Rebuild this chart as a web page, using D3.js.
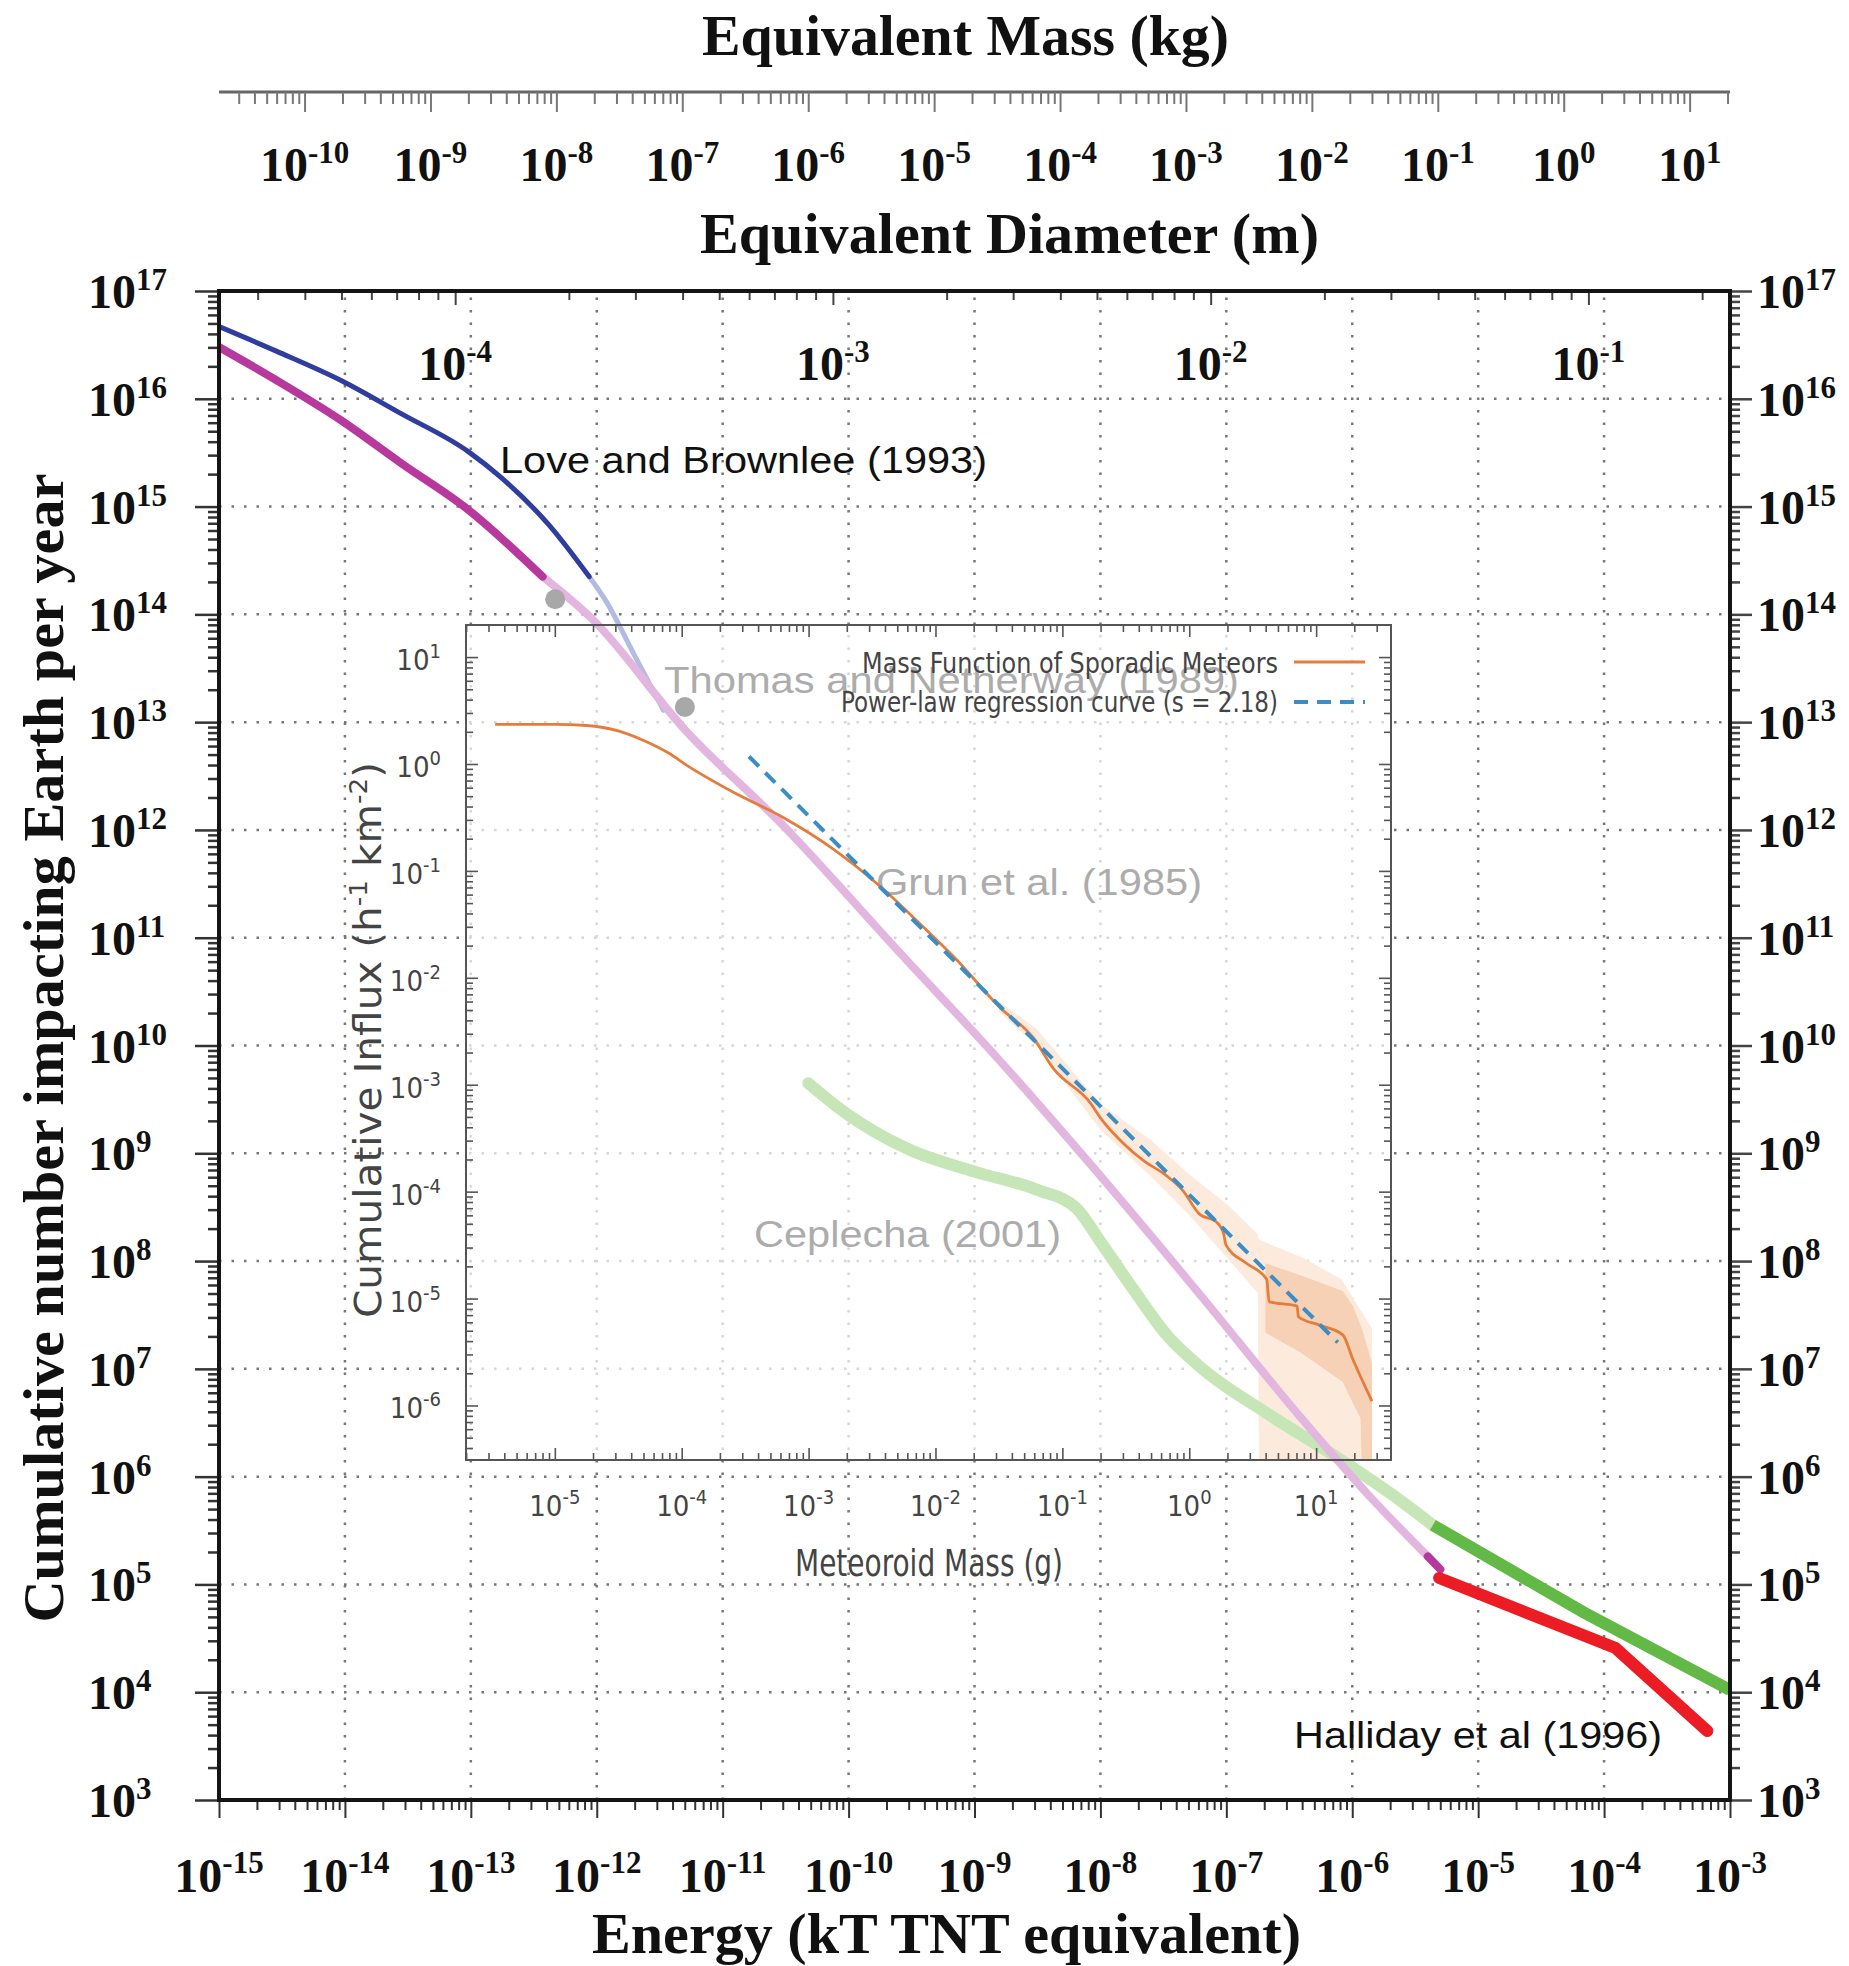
<!doctype html>
<html>
  <head>
    <meta charset="utf-8">
    <title>Cumulative impact flux</title>
    <script src="https://cdnjs.cloudflare.com/ajax/libs/d3/7.8.5/d3.min.js"></script>
    <style>
      body { margin: 0; background: #fff; }
      svg { display: block; }
      .serif { font-family: "Liberation Serif", "Times New Roman", serif; font-weight: bold; fill: #111; }
      .sans { font-family: "Liberation Sans", Arial, sans-serif; }
      .narrow { font-family: "Liberation Sans Narrow", "DejaVu Sans Condensed", "DejaVu Sans", sans-serif; font-stretch: condensed; fill: #444; }
    </style>
  </head>
  <body>
    <svg id="chart" width="1849" height="1966"></svg>
    <script>

    // ---- tick exponents ----
    var energyExps = [-15,-14,-13,-12,-11,-10,-9,-8,-7,-6,-5,-4,-3];
    var countExps = [3,4,5,6,7,8,9,10,11,12,13,14,15,16,17];
    var massExps = [-10,-9,-8,-7,-6,-5,-4,-3,-2,-1,0,1];
    var diamExps = [-4,-3,-2,-1];
    var insetMassExps = [-5,-4,-3,-2,-1,0,1];
    var insetFluxExps = [-6,-5,-4,-3,-2,-1,0,1];

    // ---- main chart series (log10 energy kT, log10 cumulative number / yr) ----
    var loveLogE = [-15, -14.54, -14.03, -13.55, -13.02, -12.77, -12.38, -12.06];
    var loveLogN = [16.67, 16.44, 16.17, 15.86, 15.51, 15.28, 14.83, 14.35];
    var loveFadeLogE = [-12.06, -11.93, -11.70, -11.47];
    var loveFadeLogN = [14.35, 14.13, 13.62, 13.11];

    var grunLogE = [-15, -14.54, -14.03, -13.55, -13.02, -12.43];
    var grunLogN = [16.48, 16.17, 15.80, 15.40, 14.97, 14.35];
    var grunFadeLogE = [-12.43, -12.03, -11.30, -10.51, -9.64, -8.80, -8.00, -7.21, -6.41, -5.88, -5.40];
    var grunFadeLogN = [14.35, 13.95, 12.93, 12.03, 10.92, 9.86, 8.79, 7.69, 6.55, 5.84, 5.26];
    var grunEndLogE = [-5.40, -5.30];
    var grunEndLogN = [5.26, 5.14];

    var cepLogE = [-10.32, -10.02, -9.51, -9.00, -8.50, -8.19, -8.00, -7.74, -7.47, -7.21, -6.68, -6.15, -5.62, -5.36];
    var cepLogN = [9.65, 9.37, 9.03, 8.83, 8.66, 8.49, 8.18, 7.74, 7.31, 7.02, 6.59, 6.20, 5.78, 5.55];
    var cepSolidLogE = [-5.36, -4.16, -3.0];
    var cepSolidLogN = [5.55, 4.74, 4.02];

    var hallLogE = [-5.31, -3.91, -3.18];
    var hallLogN = [5.06, 4.41, 3.64];

    var dotLogE = [-12.33, -11.30];
    var dotLogN = [14.14, 13.14];

    // ---- inset series (log10 mass g, log10 influx h^-1 km^-2) ----
    var mfLogM = [-5.47, -5.0, -4.75, -4.5, -4.3, -4.1, -3.95, -3.6, -3.2, -2.8, -2.43, -2.1, -1.85, -1.49, -1.23, -1.07, -0.78, -0.70, -0.50, -0.36, -0.18, -0.05, 0.08, 0.21, 0.27, 0.29, 0.45, 0.61, 0.63, 0.85, 0.86, 1.03, 1.21, 1.29, 1.44];
    var mfLogI = [0.37, 0.37, 0.36, 0.31, 0.22, 0.10, -0.02, -0.26, -0.50, -0.80, -1.15, -1.52, -1.81, -2.28, -2.56, -2.85, -3.17, -3.31, -3.57, -3.71, -3.85, -3.99, -4.21, -4.28, -4.39, -4.50, -4.67, -4.82, -5.03, -5.07, -5.17, -5.25, -5.34, -5.57, -5.96];

    var outerLogM = [-1.5, -1.2, -0.7, -0.3, 0.0, 0.3, 0.54, 0.55, 0.9, 1.2, 1.44];
    var outerHi = [-2.22, -2.48, -3.18, -3.52, -3.84, -4.12, -4.40, -4.45, -4.62, -4.82, -5.28];
    var outerLo = [-2.32, -2.64, -3.42, -3.86, -4.22, -4.62, -4.95, -6.6, -6.6, -6.6, -6.6];
    var innerLogM = [0.60, 0.87, 1.21, 1.29, 1.35, 1.36, 1.44];
    var innerHi = [-4.67, -4.78, -4.93, -5.07, -5.25, -5.28, -5.60];
    var innerLo = [-5.32, -5.50, -5.78, -5.98, -6.12, -6.6, -6.6];

    var fitLogM = [-3.47, 1.17];
    var fitLogI = [0.07, -5.41];

    // ---- scales ----
    var svg = d3.select("#chart");
    var x = d3.scaleLog().domain([1e-15, 1e-3]).range([219, 1730]);
    var y = d3.scaleLog().domain([1e3, 1e17]).range([1800, 291]);

    var KT_PER_KG = 0.5 * 20000 * 20000 / 4.184e12;   // at 20 km/s
    var RHO = 3000;
    var diam = function(m) { return Math.cbrt(6 * m / (Math.PI * RHO)); };
    var xMass = d3.scaleLog().domain(x.domain().map(function(e){ return e / KT_PER_KG; })).range(x.range());
    var xDiam = d3.scaleLog().domain(xMass.domain().map(diam)).range(x.range());

    var ix = d3.scaleLog().domain([Math.pow(10,-5.70), Math.pow(10,1.59)]).range([466, 1391]);
    var iy = d3.scaleLog().domain([Math.pow(10,-6.51), Math.pow(10,1.30)]).range([1460, 625]);

    var p10 = function(v) { return Math.pow(10, v); };

    function logTicks(dom, major) {
      var lo = Math.min(dom[0], dom[1]), hi = Math.max(dom[0], dom[1]), out = [];
      for (var e = Math.floor(Math.log10(lo)); e <= Math.ceil(Math.log10(hi)); e++) {
        for (var k = 1; k < 10; k++) {
          var v = k * Math.pow(10, e);
          if (v >= lo * 0.9999 && v <= hi * 1.0001 && (k === 1) === major) out.push(v);
        }
      }
      return out;
    }

    function ticks(axisFn, scale, tx, ty, majorLen, minorLen, color, width) {
      [[true, majorLen], [false, minorLen]].forEach(function(p) {
        svg.append("g")
          .attr("transform", "translate(" + tx + "," + ty + ")")
          .attr("color", color)
          .call(axisFn(scale).tickValues(logTicks(scale.domain(), p[0])).tickSize(p[1]).tickFormat(""))
          .call(function(g){ g.select(".domain").remove(); g.selectAll("text").remove(); })
          .selectAll("line").attr("stroke-width", width);
      });
    }

    function expLabel(cls, xx, yy, exp, anchor, size, sup, rise) {
      var t = svg.append("text").attr("class", cls)
        .attr("x", xx).attr("y", yy).attr("text-anchor", anchor).attr("font-size", size);
      t.append("tspan").text("10");
      t.append("tspan").attr("dy", -rise).attr("font-size", sup).text(exp);
      return t;
    }

    var pts = function(xs, ys, sx, sy) {
      return d3.zip(xs, ys).map(function(d){ return [sx(p10(d[0])), sy(p10(d[1]))]; });
    };

    // ---- clip paths ----
    var defs = svg.append("defs");
    defs.append("clipPath").attr("id", "plotclip").append("rect")
      .attr("x", 219).attr("y", 291).attr("width", 1511).attr("height", 1509);
    defs.append("clipPath").attr("id", "insetclip").append("rect")
      .attr("x", 466).attr("y", 625).attr("width", 925).attr("height", 835);

    // ---- main grid ----
    var grid = svg.append("g").attr("stroke", "#777").attr("stroke-width", 2.5).attr("stroke-dasharray", "2.5,10");
    countExps.slice(1, -1).forEach(function(e) {
      grid.append("line").attr("x1", x.range()[0]).attr("x2", x.range()[1]).attr("y1", y(p10(e))).attr("y2", y(p10(e)));
    });
    energyExps.slice(1, -1).forEach(function(e) {
      grid.append("line").attr("y1", y.range()[0]).attr("y2", y.range()[1]).attr("x1", x(p10(e))).attr("x2", x(p10(e)));
    });

    // ---- inset background (semi transparent) ----
    svg.append("rect").attr("x", 466).attr("y", 625).attr("width", 925).attr("height", 835)
      .attr("fill", "#fff").attr("opacity", 0.7);

    // inset confidence bands
    var band = d3.area()
      .x(function(d){ return ix(p10(d[0])); })
      .y0(function(d){ return iy(p10(d[2])); })
      .y1(function(d){ return iy(p10(d[1])); });
    var ib = svg.append("g").attr("clip-path", "url(#insetclip)");
    ib.append("path").attr("d", band(d3.zip(outerLogM, outerHi, outerLo))).attr("fill", "#fcebdd");
    ib.append("path").attr("d", band(d3.zip(innerLogM, innerHi, innerLo))).attr("fill", "#f6d1b5");

    // ---- faded main curves ----
    var smooth = d3.line().curve(d3.curveMonotoneX);
    var straight = d3.line();
    var mc = svg.append("g").attr("clip-path", "url(#plotclip)").attr("fill", "none").attr("stroke-linecap", "round");
    mc.append("path").attr("d", smooth(pts(cepLogE, cepLogN, x, y))).attr("stroke", "#c6e6b8").attr("stroke-width", 12);
    mc.append("path").attr("d", smooth(pts(loveFadeLogE, loveFadeLogN, x, y))).attr("stroke", "#b2bbe2").attr("stroke-width", 5);
    mc.append("path").attr("d", smooth(pts(grunFadeLogE, grunFadeLogN, x, y))).attr("stroke", "#e2b6de").attr("stroke-width", 8);

    svg.append("g").attr("fill", "#a8a8a8").selectAll("circle")
      .data(d3.zip(dotLogE, dotLogN)).enter().append("circle")
      .attr("cx", function(d){ return x(p10(d[0])); })
      .attr("cy", function(d){ return y(p10(d[1])); })
      .attr("r", 10);

    // gray source labels
    var lab = function(txt, xx, yy, len, col) {
      svg.append("text").attr("class", "sans").attr("x", xx).attr("y", yy)
        .attr("font-size", 37).attr("fill", col).attr("textLength", len)
        .attr("lengthAdjust", "spacingAndGlyphs").text(txt);
    };
    lab("Thomas and Netherway (1989)", 664, 693, 575, "#acacac");
    lab("Grun et al. (1985)", 876, 895, 326, "#acacac");
    lab("Ceplecha (2001)", 754, 1247, 307, "#acacac");

    // ---- inset content ----
    var ic = svg.append("g").attr("clip-path", "url(#insetclip)").attr("fill", "none");
    ic.append("path").attr("d", d3.line().curve(d3.curveMonotoneX)(pts(mfLogM, mfLogI, ix, iy)))
      .attr("stroke", "#e57c3c").attr("stroke-width", 2.8);
    ic.append("path").attr("d", straight(pts(fitLogM, fitLogI, ix, iy))).attr("stroke", "#3c8dc6")
      .attr("stroke-width", 4).attr("stroke-dasharray", "14,9");

    svg.append("rect").attr("x", 466).attr("y", 625).attr("width", 925).attr("height", 835)
      .attr("fill", "none").attr("stroke", "#555").attr("stroke-width", 2);
    ticks(d3.axisBottom, ix, 0, 625, 12, 7, "#555", 1.6);
    ticks(d3.axisTop, ix, 0, 1460, 12, 7, "#555", 1.6);
    ticks(d3.axisRight, iy, 466, 0, 12, 7, "#555", 1.6);
    ticks(d3.axisLeft, iy, 1391, 0, 12, 7, "#555", 1.6);

    insetFluxExps.forEach(function(e) {
      expLabel("narrow", 441, iy(p10(e)) + 13, String(e), "end", 29, 20, 12);
    });
    insetMassExps.forEach(function(e) {
      expLabel("narrow", ix(p10(e)), 1516, String(e), "middle", 29, 20, 12);
    });
    svg.append("text").attr("class", "narrow").attr("x", 795).attr("y", 1576)
      .attr("font-size", 38).attr("textLength", 268).attr("lengthAdjust", "spacingAndGlyphs")
      .text("Meteoroid Mass (g)");
    var iyt = svg.append("text").attr("class", "narrow")
      .attr("transform", "translate(381,1040) rotate(-90)").attr("text-anchor", "middle")
      .attr("font-size", 37).attr("textLength", 556).attr("lengthAdjust", "spacingAndGlyphs");
    iyt.append("tspan").text("Cumulative Influx (h");
    iyt.append("tspan").attr("dy", -14).attr("font-size", 24).text("-1");
    iyt.append("tspan").attr("dy", 14).text(" km");
    iyt.append("tspan").attr("dy", -14).attr("font-size", 24).text("-2");
    iyt.append("tspan").attr("dy", 14).text(")");

    // legend
    var leg = [["Mass Function of Sporadic Meteors", 673, 662, "#e57c3c", null, 416, 3],
               ["Power-law regression curve (s = 2.18)", 712, 702, "#3c8dc6", "14,9", 437, 4]];
    leg.forEach(function(l) {
      svg.append("text").attr("class", "narrow").attr("x", 1278).attr("y", l[1])
        .attr("text-anchor", "end").attr("font-size", 29).attr("fill", "#333")
        .attr("textLength", l[5]).attr("lengthAdjust", "spacingAndGlyphs").text(l[0]);
      svg.append("line").attr("x1", 1294).attr("x2", 1365).attr("y1", l[2]).attr("y2", l[2])
        .attr("stroke", l[3]).attr("stroke-width", l[6]).attr("stroke-dasharray", l[4]);
    });

    // ---- solid main curves ----
    var sc = svg.append("g").attr("clip-path", "url(#plotclip)").attr("fill", "none").attr("stroke-linecap", "round");
    sc.append("path").attr("d", smooth(pts(loveLogE, loveLogN, x, y))).attr("stroke", "#2f3e9e").attr("stroke-width", 5);
    sc.append("path").attr("d", smooth(pts(grunLogE, grunLogN, x, y))).attr("stroke", "#b8399d").attr("stroke-width", 8);
    sc.append("path").attr("d", straight(pts(grunEndLogE, grunEndLogN, x, y))).attr("stroke", "#b8399d").attr("stroke-width", 8);
    sc.append("path").attr("d", straight(pts(cepSolidLogE, cepSolidLogN, x, y))).attr("stroke", "#63b946").attr("stroke-width", 12).attr("stroke-linecap", "butt");
    sc.append("path").attr("d", straight(pts(hallLogE, hallLogN, x, y))).attr("stroke", "#ec1c24").attr("stroke-width", 12);

    lab("Love and Brownlee (1993)", 500, 473, 487, "#111");
    lab("Halliday et al (1996)", 1294, 1748, 368, "#111");

    // ---- main axes ----
    ticks(d3.axisBottom, x, 0, 1800, 18, 10, "#333", 2);
    ticks(d3.axisLeft, y, 219, 0, 24, 11, "#333", 2.5);
    ticks(d3.axisLeft, y, 1730, 0, -22, -10, "#444", 2.5);
    ticks(d3.axisTop, xDiam, 0, 291, -14, -9, "#444", 2);
    svg.append("rect").attr("x", 219).attr("y", 291).attr("width", 1511).attr("height", 1509)
      .attr("fill", "none").attr("stroke", "#151515").attr("stroke-width", 4);

    // mass axis on top
    svg.append("line").attr("x1", 219).attr("x2", 1730).attr("y1", 92).attr("y2", 92)
      .attr("stroke", "#666").attr("stroke-width", 3);
    ticks(d3.axisBottom, xMass, 0, 92, 20, 12, "#777", 2);

    // tick labels
    energyExps.forEach(function(e) { expLabel("serif", x(p10(e)), 1892, String(e), "middle", 48, 31, 19); });
    countExps.forEach(function(e) {
      expLabel("serif", 88, y(p10(e)) + 17, String(e), "start", 48, 31, 18);
      expLabel("serif", 1757, y(p10(e)) + 17, String(e), "start", 48, 31, 18);
    });
    massExps.forEach(function(e) { expLabel("serif", xMass(p10(e)), 181, String(e), "middle", 48, 31, 18); });
    diamExps.forEach(function(e) { expLabel("serif", xDiam(p10(e)), 380, String(e), "middle", 48, 31, 18); });

    // titles
    var title = function(txt, xx, yy, len, rot) {
      var t = svg.append("text").attr("class", "serif").attr("font-size", 57)
        .attr("textLength", len).attr("lengthAdjust", "spacingAndGlyphs").text(txt);
      if (rot) t.attr("transform", "translate(" + xx + "," + yy + ") rotate(-90)").attr("text-anchor", "middle");
      else t.attr("x", xx).attr("y", yy);
    };
    title("Equivalent Mass (kg)", 702, 55, 527);
    title("Equivalent Diameter (m)", 700, 253, 619);
    title("Energy (kT TNT equivalent)", 592, 1953, 709);
    title("Cumulative number impacting Earth per year", 63, 1048, 1149, true);

    </script>
  </body>
</html>
